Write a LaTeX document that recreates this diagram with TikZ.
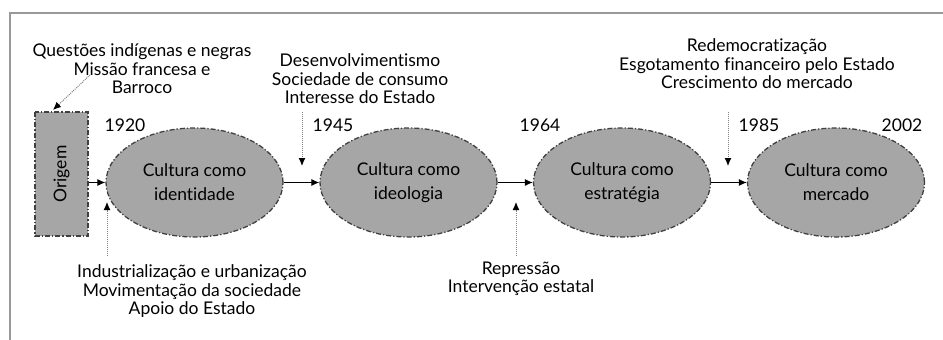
\documentclass[tikz,border=0pt]{standalone}
\usepackage{fontspec}
\setmainfont{Lato}[Ligatures=NoCommon]
\usetikzlibrary{shapes.geometric, arrows.meta}

\begin{document}
\begin{tikzpicture}[x=1pt, y=-1pt,
	fase/.style={ellipse, draw=black!75, fill=black!35, line width=1.3pt, dash pattern=on 5pt off 2pt on 1.3pt off 2pt, minimum width=177pt, minimum height=109pt, inner sep=0pt, align=center, font=\fontsize{17.5}{24}\selectfont},
	texto/.style={align=center, inner sep=0pt, font=\fontsize{17.5}{18.5}\selectfont},
	ano/.style={inner sep=0pt, font=\fontsize{17.5}{18.5}\selectfont},
	seta/.style={-{Latex[length=8pt,width=7pt]}, line width=1pt},
	pista/.style={-{Latex[length=8pt,width=7pt,color=black]}, draw=black!50, line width=1pt, dash pattern=on 1pt off 1pt}]
	\useasboundingbox (0,0) rectangle (943,340);
	\draw [black!40, line width=1.2pt] (943,13) -- (10,13) -- (10,340);

	% etapas
	\node [fase, rectangle, minimum width=124pt, minimum height=53pt, rotate=90] (origem) at (61.5,174) {Origem};
	\node [fase] (identidade) at (194.5,182.5) {Cultura como\\identidade};
	\node [fase] (ideologia) at (408.5,182.5) {Cultura como\\ideologia};
	\node [fase] (estrategia) at (622,182.5) {Cultura como\\estratégia};
	\node [fase] (mercado) at (836,182.5) {Cultura como\\mercado};

	\draw [seta] (origem.south |- identidade.west) -- (identidade.west);
	\draw [seta] (identidade.east) -- (ideologia.west);
	\draw [seta] (ideologia.east) -- (estrategia.west);
	\draw [seta] (estrategia.east) -- (mercado.west);

	% anos
	\node [ano] (a1920) at (125,125) {1920};
	\node [ano] (a1945) at (333,125) {1945};
	\node [ano] (a1964) at (540,125) {1964};
	\node [ano] (a1985) at (759,125) {1985};
	\node [ano] (a2002) at (902,125) {2002};

	% fatores
	\node [texto] (questoes) at (142,69) {Questões indígenas e negras\\Missão francesa e\\Barroco};
	\node [texto] (desenv) at (360,79) {Desenvolvimentismo\\Sociedade de consumo\\Interesse do Estado};
	\node [texto] (redemo) at (757,64) {Redemocratização\\Esgotamento financeiro pelo Estado\\Crescimento do mercado};
	\node [texto] (indust) at (192,291.5) {Industrialização e urbanização\\Movimentação da sociedade\\Apoio do Estado};
	\node [texto] (repressao) at (521,279) {Repressão\\Intervenção estatal};

	\coordinate (q1) at (90,75);
	\coordinate (q2) at (53,110);
	\coordinate (d1) at (302,112);
	\coordinate (d2) at (302,166);
	\coordinate (r1) at (728,112);
	\coordinate (r2) at (728,166);
	\coordinate (i1) at (107,256);
	\coordinate (i2) at (107,202);
	\coordinate (p1) at (516,256);
	\coordinate (p2) at (516,202);

	\draw [pista] (q1) -- (q2);
	\draw [pista] (d1) -- (d2);
	\draw [pista] (r1) -- (r2);
	\draw [pista] (i1) -- (i2);
	\draw [pista] (p1) -- (p2);
\end{tikzpicture}
\end{document}
